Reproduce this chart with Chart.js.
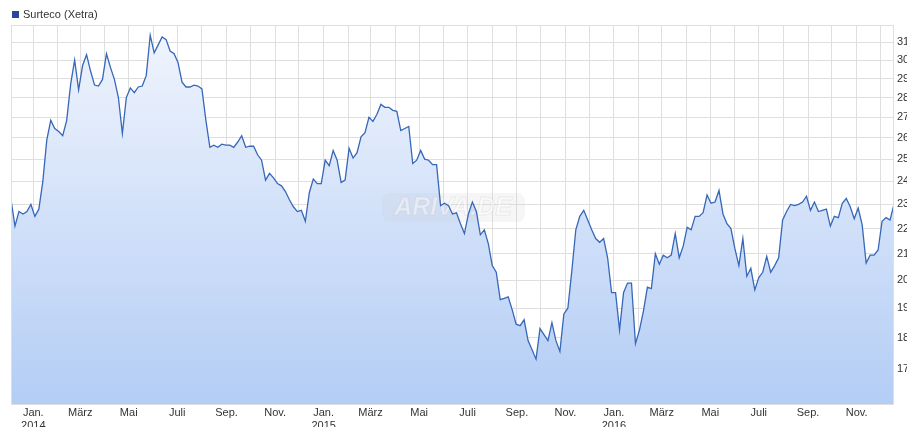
<!DOCTYPE html>
<html>
<head>
<meta charset="utf-8">
<script src="https://cdn.jsdelivr.net/npm/chart.js@4/dist/chart.umd.min.js"></script>
<style>
html,body{margin:0;padding:0;background:#fff;overflow:hidden}
#wrap{width:907px;height:427px}
</style>
</head>
<body>
<div id="wrap"><canvas id="chart" width="907" height="427"></canvas></div>
<script>
const seriesName = "Surteco (Xetra)";
const startDate = [2013, 11, 4]; // 4. Dez. 2013, ein Wert alle 5 Tage
const stepDays = 5;
const prices = [
 23.2,22.1,22.7,22.6,22.7,23.0,22.5,22.8,24.0,25.9,
 26.85,26.45,26.3,26.1,26.85,28.7,30.0,28.4,29.7,30.3,
 29.4,28.65,28.6,28.95,30.35,29.6,28.95,28.0,26.2,28.0,
 28.5,28.25,28.55,28.6,29.15,31.4,30.4,30.85,31.3,31.15,
 30.5,30.35,29.85,28.8,28.55,28.55,28.65,28.6,28.45,26.85,
 25.55,25.65,25.55,25.7,25.65,25.65,25.55,25.8,26.1,25.55,
 25.6,25.6,25.2,24.95,24.05,24.35,24.15,23.9,23.8,23.55,
 23.2,22.9,22.7,22.75,22.3,23.5,24.1,23.9,23.9,24.95,
 24.7,25.4,24.95,23.95,24.05,25.5,25.05,25.3,26.05,26.25,
 27.0,26.8,27.15,27.65,27.5,27.5,27.35,27.3,26.35,26.45,
 26.55,24.8,24.95,25.4,25.0,24.95,24.75,24.75,22.95,23.05,
 22.95,22.6,22.65,22.2,21.8,22.6,23.1,22.7,21.75,21.95,
 21.4,20.55,20.3,19.3,19.35,19.4,18.95,18.45,18.4,18.6,
 17.9,17.6,17.3,18.3,18.1,17.9,18.5,17.9,17.55,18.8,
 19.0,20.35,21.95,22.5,22.75,22.35,21.95,21.6,21.45,21.6,
 20.85,19.55,19.55,18.25,19.55,19.9,19.9,17.8,18.25,18.9,
 19.75,19.7,21.0,20.6,20.95,20.85,20.95,21.8,20.85,21.3,
 22.05,21.95,22.5,22.5,22.65,23.4,23.05,23.1,23.6,22.6,
 22.2,22.0,21.2,20.55,21.6,20.15,20.45,19.65,20.1,20.3,
 20.9,20.3,20.55,20.85,22.35,22.7,23.0,22.95,23.0,23.1,
 23.35,22.75,23.1,22.7,22.75,22.8,22.1,22.5,22.45,23.05,
 23.25,22.9,22.4,22.85,22.15,20.65,20.95,20.95,21.15,22.3,
 22.45,22.35,23.0
];
const yTicks = [17,18,19,20,21,22,23,24,25,26,27,28,29,30,31];
const yMin = 15.9, yMax = 32.0;
const monthNames = ["Jan.","Feb.","März","Apr.","Mai","Juni","Juli","Aug.","Sep.","Okt.","Nov.","Dez."];
const years = [2014, 2015, 2016];

const DAY = 86400000;
const day0 = Date.UTC(startDate[0], startDate[1], startDate[2]) / DAY;
const points = prices.map((p, i) => ({x: day0 + i * stepDays, y: p}));
const xMin = points[0].x, xMax = points[points.length - 1].x;

const monthTicks = [];
years.forEach(y => {
 for(let m = 0; m < 12; m++){
  const v = Date.UTC(y, m, 1) / DAY;
  if(v >= xMin && v <= xMax) monthTicks.push(v);
 }
});

const gridColor = '#dfdfdf';
const font = {family: 'Liberation Sans', size: 11};

// Rahmen um den Plotbereich
const frame = {
 id: 'frame',
 afterDraw(chart){
  const a = chart.chartArea, c = chart.ctx;
  c.save();
  c.strokeStyle = gridColor;
  c.lineWidth = 1;
  c.strokeRect(a.left + 0.5, a.top + 0.5, a.right - a.left - 1, a.bottom - a.top - 1);
  c.restore();
 }
};

// kleine Legende oben links
const legendBox = {
 id: 'legendBox',
 afterDraw(chart){
  const c = chart.ctx;
  c.save();
  c.fillStyle = '#27479a';
  c.fillRect(12, 11, 7, 7);
  c.fillStyle = '#333';
  c.font = '11px "Liberation Sans"';
  c.textBaseline = 'middle';
  c.fillText(seriesName, 23, 15);
  c.restore();
 }
};

// Wasserzeichen, sehr blass
const watermark = {
 id: 'watermark',
 beforeDatasetDraw(chart){
  const c = chart.ctx;
  c.save();
  c.fillStyle = 'rgba(200,200,200,0.16)';
  c.beginPath();
  c.roundRect(382, 193, 143, 29, 8);
  c.fill();
  c.fillStyle = 'rgba(255,255,255,0.45)';
  c.strokeStyle = 'rgba(190,190,190,0.25)';
  c.lineWidth = 1;
  c.font = 'italic bold 25px "Liberation Sans"';
  c.textAlign = 'center';
  c.textBaseline = 'middle';
  c.fillText('ARIVA.DE', 453, 208);
  c.strokeText('ARIVA.DE', 453, 208);
  c.restore();
 }
};

new Chart(document.getElementById('chart'), {
 type: 'line',
 data: {
  datasets: [{
   label: seriesName,
   data: points,
   borderColor: '#3767b8',
   borderWidth: 1.3,
   pointRadius: 0,
   tension: 0,
   fill: 'start',
   backgroundColor: function(ctx){
    const a = ctx.chart.chartArea;
    if(!a) return '#d0e0f8';
    const g = ctx.chart.ctx.createLinearGradient(0, a.top, 0, a.bottom);
    g.addColorStop(0, '#f1f5fd');
    g.addColorStop(1, '#b3cdf5');
    return g;
   }
  }]
 },
 options: {
  responsive: false,
  animation: false,
  events: [],
  layout: {padding: {top: 25, left: 11, right: 0, bottom: 0}},
  plugins: {
   legend: {display: false},
   tooltip: {enabled: false}
  },
  scales: {
   x: {
    type: 'linear',
    min: xMin,
    max: xMax,
    afterBuildTicks: s => { s.ticks = monthTicks.map(v => ({value: v})); },
    afterFit: s => { s.height = 22; },
    grid: {color: gridColor, drawTicks: false},
    border: {display: false},
    ticks: {
     autoSkip: false,
     maxRotation: 0,
     padding: 1,
     color: '#333',
     font: font,
     callback: function(v){
      const d = new Date(v * DAY);
      const m = d.getUTCMonth();
      if(m % 2) return '';
      if(m === 0) return [monthNames[0], String(d.getUTCFullYear())];
      return monthNames[m];
     }
    }
   },
   y: {
    type: 'logarithmic',
    position: 'right',
    min: yMin,
    max: yMax,
    afterBuildTicks: s => { s.ticks = yTicks.map(v => ({value: v})); },
    afterFit: s => { s.width = 13; },
    grid: {color: gridColor, drawTicks: false},
    border: {display: false},
    ticks: {
     padding: 3,
     color: '#333',
     font: font,
     callback: v => String(v)
    }
   }
  }
 },
 plugins: [frame, legendBox, watermark]
});
</script>
</body>
</html>
